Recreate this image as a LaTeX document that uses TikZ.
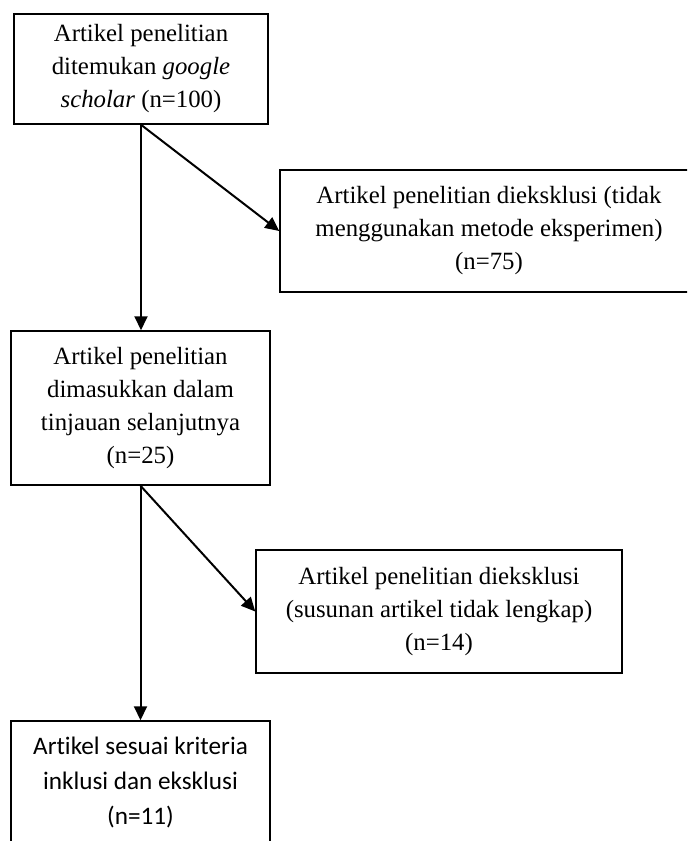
\documentclass[tikz,border=0pt]{standalone}
\usepackage{fontspec}
\setmainfont{Liberation Serif}
\newfontfamily\calfont[Ligatures=NoCommon]{Carlito}
\usepackage{tikz}
\usetikzlibrary{arrows.meta}

\begin{document}
\begin{tikzpicture}[x=0.5pt, y=-0.5pt, >={Triangle[length=7pt,width=6.5pt]},
    box/.style={draw, line width=0.75pt, align=center, inner sep=0pt,
        font=\fontsize{12.4}{16.5}\selectfont},
    arr/.style={->, line width=1pt}]
    \clip (0,0) rectangle (687,841);
    \node[box, minimum width=127pt, minimum height=55pt] (found) at (141,69)
        {Artikel penelitian\\ditemukan \textit{google}\\\textit{scholar} (n=100)};
    \node[box, minimum width=209pt, minimum height=61pt] (excl1) at (489,231)
        {Artikel penelitian dieksklusi (tidak\\menggunakan metode eksperimen)\\(n=75)};
    \node[box, minimum width=129.5pt, minimum height=77pt] (incl) at (140.5,408)
        {Artikel penelitian\\dimasukkan dalam\\tinjauan selanjutnya\\(n=25)};
    \node[box, minimum width=183pt, minimum height=61.5pt] (excl2) at (439,611.5)
        {Artikel penelitian dieksklusi\\(susunan artikel tidak lengkap)\\(n=14)};
    \node[box, minimum width=129.5pt, minimum height=61pt,
        font=\calfont\fontsize{12.6}{17.5}\selectfont] (final) at (140.5,782)
        {Artikel sesuai kriteria\\inklusi dan eksklusi\\(n=11)};
    \draw[arr] (found.south) -- (found.south |- incl.north);
    \draw[arr] (found.south) -- (excl1.west);
    \draw[arr] (incl.south) -- (incl.south |- final.north);
    \draw[arr] (incl.south) -- (excl2.west);
\end{tikzpicture}
\end{document}
